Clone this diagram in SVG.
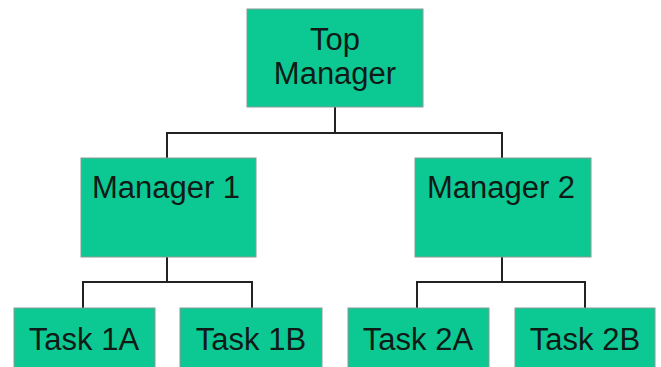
<svg xmlns="http://www.w3.org/2000/svg" width="661" height="367" viewBox="0 0 661 367">
<style>
.box{fill:#0cc994;stroke:#8a9a94;stroke-width:1}
.t{font-family:"Liberation Sans",Arial,sans-serif;font-size:31px;fill:#101a16;text-anchor:middle}
.c{fill:none;stroke:#222;stroke-width:2}
</style>
<rect width="661" height="367" fill="#fff"/>
<g id="connectors">
<path class="c" d="M335 107V133M167 158V133H502V158"/>
<path class="c" d="M167 257V282M83 308V282H252V308"/>
<path class="c" d="M502 257V282M417 308V282H585V308"/>
</g>
<g id="top"><rect class="box" x="247" y="9" width="176" height="98"/><text class="t" x="335" y="50">Top</text><text class="t" x="335" y="84">Manager</text></g>
<g id="m1"><rect class="box" x="81" y="158" width="175" height="99"/><text class="t" x="166" y="198">Manager 1</text></g>
<g id="m2"><rect class="box" x="415" y="158" width="176" height="99"/><text class="t" x="501" y="198">Manager 2</text></g>
<g id="t1a"><rect class="box" x="14" y="308" width="141" height="70"/><text class="t" x="84" y="350">Task 1A</text></g>
<g id="t1b"><rect class="box" x="180" y="308" width="142" height="70"/><text class="t" x="251" y="350">Task 1B</text></g>
<g id="t2a"><rect class="box" x="348" y="308" width="141" height="70"/><text class="t" x="418" y="350">Task 2A</text></g>
<g id="t2b"><rect class="box" x="515" y="308" width="140" height="70"/><text class="t" x="585" y="350">Task 2B</text></g>
</svg>
